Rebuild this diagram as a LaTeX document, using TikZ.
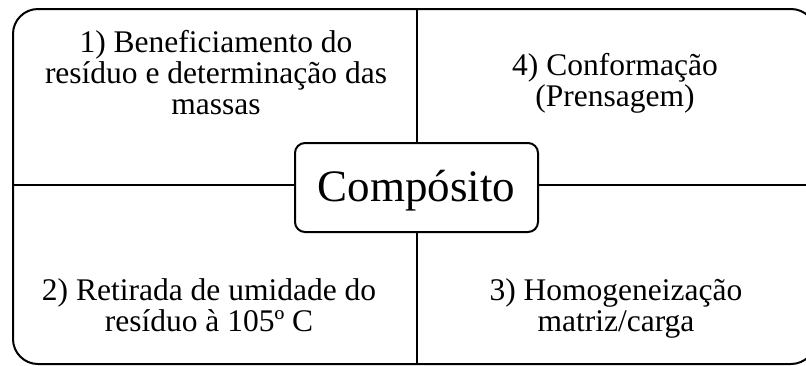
\documentclass[tikz,border=0pt]{standalone}
\usepackage{fontspec}
\setmainfont{Liberation Serif}
\begin{document}
\begin{tikzpicture}[x=1bp,y=-1bp,
  frame/.style={draw=black,line width=2bp},
  quad/.style={anchor=base,inner sep=0pt,font=\fontsize{31.5bp}{31bp}\selectfont},
  hub/.style={draw=black,line width=2bp,rounded corners=10bp,fill=white,
    minimum width=243bp,minimum height=89bp,inner sep=0pt,
    text height=28.4bp,text depth=0bp,font=\fontsize{45bp}{50bp}\selectfont}]
\useasboundingbox (0,0) rectangle (806,365);
\draw[frame,rounded corners=25bp] (13,9) rectangle (816,364);
\coordinate (top) at (416.5,9);
\coordinate (bot) at (416.5,364);
\coordinate (lft) at (13,185);
\coordinate (rgt) at (816,185);
\node[hub] (c) at (416.5,187.5) {Compósito};
\draw[frame] (top) -- (c.north);
\draw[frame] (c.south) -- (bot);
\draw[frame] (lft) -- (c.west |- lft);
\draw[frame] (c.east |- rgt) -- (rgt);
\node[quad] (q1) at (216,52) {\begin{tabular}[t]{@{}c@{}}1) Beneficiamento do\\resíduo e determinação das\\massas\end{tabular}};
\node[quad] (q4) at (615,75) {\begin{tabular}[t]{@{}c@{}}4) Conformação\\(Prensagem)\end{tabular}};
\node[quad] (q2) at (209,300) {\begin{tabular}[t]{@{}c@{}}2) Retirada de umidade do\\resíduo à 105º C\end{tabular}};
\node[quad] (q3) at (616,300) {\begin{tabular}[t]{@{}c@{}}3) Homogeneização\\matriz/carga\end{tabular}};
\end{tikzpicture}
\end{document}
